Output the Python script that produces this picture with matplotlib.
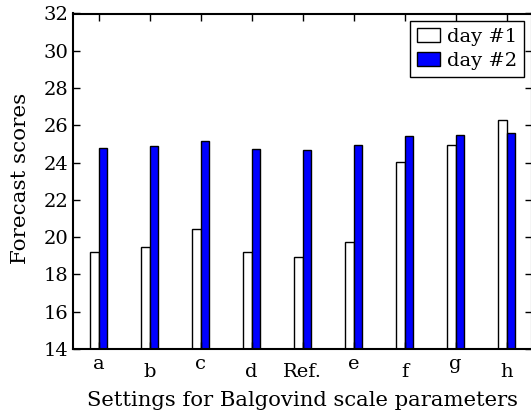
import numpy as np
import matplotlib
matplotlib.use("Agg")
import matplotlib.pyplot as plt
import matplotlib.transforms as mtransforms

settings = ["a", "b", "c", "d", "Ref.", "e", "f", "g", "h"]
day1_scores = [19.2, 19.45, 20.45, 19.2, 18.95, 19.75, 24.05, 24.95, 26.3]
day2_scores = [24.8, 24.9, 25.15, 24.75, 24.65, 24.95, 25.45, 25.5, 25.6]

plt.rcParams["font.family"] = "DejaVu Serif"
plt.rcParams["font.size"] = 14

fig = plt.figure(figsize=(5.31, 4.16), dpi=100)
ax = fig.add_axes([73 / 531, 1 - 349 / 416, 459 / 531, 335.5 / 416])

ind = np.arange(len(settings))
width = 0.16
ax.bar(ind - width, day1_scores, width, align="edge", color="white",
       edgecolor="black", linewidth=1, label="day #1")
ax.bar(ind, day2_scores, width, align="edge", color="#0000ff",
       edgecolor="black", linewidth=1, label="day #2")

ax.set_xlim(-0.5, len(settings) - 0.5)
ax.set_ylim(14, 32)
ax.set_yticks(np.arange(14, 33, 2))
ax.set_xticks(ind)
ax.set_xticklabels([])
ax.tick_params(direction="in", top=True, right=True, length=5, width=1)
for sp in ax.spines.values():
    sp.set_linewidth(1.5)

# old-style labels: ink tops aligned, so short letters sit higher
trans = ax.get_xaxis_transform()
for i, lab in enumerate(settings):
    shift = 14.4 if lab in ("a", "c", "e", "g") else 19.9
    t = mtransforms.offset_copy(trans, fig=fig, x=0, y=-shift, units="points")
    ax.text(ind[i], 0, lab, transform=t, ha="center", va="baseline")

ax.set_ylabel("Forecast scores", fontsize=15.4)
ax.yaxis.set_label_coords(-0.093, 0.51)
ax.set_xlabel("Settings for Balgovind scale parameters", fontsize=15.2,
              labelpad=27)

leg = ax.legend(loc="upper right", fancybox=False, framealpha=1,
                edgecolor="black", borderaxespad=0.4, handlelength=1.15,
                handletextpad=0.4, borderpad=0.35, labelspacing=0.3)
leg.get_frame().set_linewidth(1)

fig.savefig("out.png", dpi=100)
